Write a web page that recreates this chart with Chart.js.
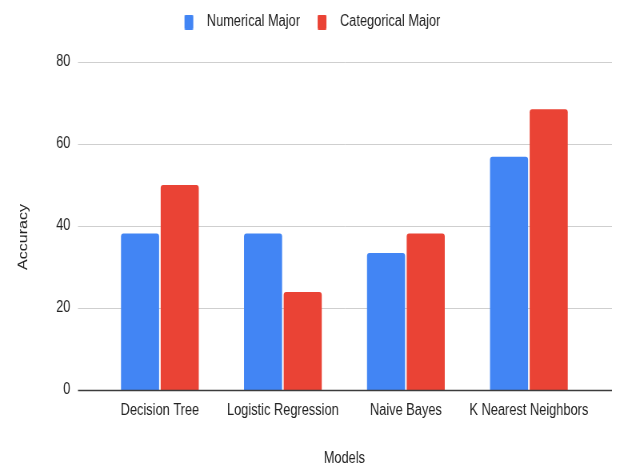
<!DOCTYPE html>
<html>
<head>
<meta charset="utf-8">
<script src="https://cdn.jsdelivr.net/npm/chart.js@4/dist/chart.umd.min.js"></script>
<style>
  html, body { margin: 0; padding: 0; background: #fff; overflow: hidden; }
  #wrap { width: 617px; height: 468px; overflow: hidden; }
  /* the chart is laid out on a wider canvas and narrowed horizontally */
  canvas { display: block; transform: scaleX(0.8); transform-origin: 0 0; }
</style>
</head>
<body>
<div id="wrap"><canvas id="c" width="771" height="468" style="width:771px;height:468px"></canvas></div>
<script>
// ---- data ----
const categories = ['Decision Tree', 'Logistic Regression', 'Naive Bayes', 'K Nearest Neighbors'];
const seriesNames = ['Numerical Major', 'Categorical Major'];
const numericalMajor = [38.2, 38.2, 33.4, 56.9];
const categoricalMajor = [50.0, 23.9, 38.2, 68.5];
const yTicks = [0, 20, 40, 60, 80];
const xTitle = 'Models';
const yTitle = 'Accuracy';

// ---- styling ----
const BLUE = '#4285F4';
const RED = '#EA4335';
const TEXT = '#222222';
const FONT = "'Liberation Sans', Arial, sans-serif";

Chart.defaults.font.family = FONT;
Chart.defaults.font.size = 16;
Chart.defaults.color = TEXT;

// legend swatch: coloured block with transparent margins on both sides
function swatch(color) {
  const c = document.createElement('canvas');
  c.width = 30; c.height = 15;
  const g = c.getContext('2d');
  g.fillStyle = color;
  g.beginPath();
  if (g.roundRect) g.roundRect(10, 0, 11, 15, 1.5); else g.rect(10, 0, 11, 15);
  g.fill();
  return c;
}

// horizontal grid, baseline and rotated y title
const frame = {
  id: 'frame',
  beforeDatasetsDraw(chart) {
    const { ctx, chartArea, scales: { y } } = chart;
    const x0 = chartArea.left - 25.5, x1 = chartArea.right + 27;
    ctx.save();
    ctx.strokeStyle = '#cfcfcf';
    ctx.lineWidth = 1;
    yTicks.forEach(v => {
      if (v === 0) return;
      const py = Math.round(y.getPixelForValue(v)) + 0.5;
      ctx.beginPath(); ctx.moveTo(x0, py); ctx.lineTo(x1, py); ctx.stroke();
    });
    ctx.restore();
  },
  afterDatasetsDraw(chart) {
    const { ctx, chartArea, scales: { y } } = chart;
    const x0 = chartArea.left - 25.5, x1 = chartArea.right + 27;
    const py = Math.round(y.getPixelForValue(0)) + 0.5;
    ctx.save();
    ctx.strokeStyle = '#3c3c3c';
    ctx.lineWidth = 1.4;
    ctx.beginPath(); ctx.moveTo(x0, py); ctx.lineTo(x1, py); ctx.stroke();
    ctx.restore();
  },
  afterDraw(chart) {
    const { ctx, chartArea } = chart;
    ctx.save();
    ctx.translate(29.5, (chartArea.top + chartArea.bottom) / 2 + 11);
    ctx.rotate(-Math.PI / 2);
    ctx.fillStyle = TEXT;
    ctx.font = '16px ' + FONT;
    ctx.textAlign = 'center';
    ctx.textBaseline = 'middle';
    ctx.fillText(yTitle, 0, 0);
    ctx.restore();
  }
};

const radius = { topLeft: 3, topRight: 3, bottomLeft: 0, bottomRight: 0 };

new Chart(document.getElementById('c'), {
  type: 'bar',
  data: {
    labels: categories,
    datasets: [
      { label: seriesNames[0], data: numericalMajor, backgroundColor: BLUE, borderRadius: radius, borderSkipped: false },
      { label: seriesNames[1], data: categoricalMajor, backgroundColor: RED, borderRadius: radius, borderSkipped: false }
    ]
  },
  options: {
    responsive: false,
    animation: false,
    devicePixelRatio: 1,
    layout: { padding: { left: 0, right: 0, top: 2, bottom: 0 } },
    datasets: { bar: { categoryPercentage: 0.645, barPercentage: 0.96 } },
    plugins: {
      tooltip: { enabled: false },
      legend: {
        position: 'top',
        align: 'center',
        labels: {
          usePointStyle: true,
          pointStyleWidth: 30,
          padding: 12,
          color: TEXT,
          font: { size: 16 },
          generateLabels(chart) {
            const items = Chart.defaults.plugins.legend.labels.generateLabels(chart);
            items.forEach((it, i) => { it.pointStyle = swatch(chart.data.datasets[i].backgroundColor); });
            return items;
          }
        }
      }
    },
    scales: {
      x: {
        grid: { display: false, drawTicks: false },
        border: { display: false },
        ticks: { padding: 11, maxRotation: 0, minRotation: 0, autoSkip: false, color: TEXT },
        title: { display: true, text: xTitle, color: TEXT, padding: { top: 0, bottom: 0 } },
        afterFit(s) { s.height = 78; }
      },
      xt: {
        type: 'linear',
        position: 'top',
        display: true,
        grid: { display: false, drawTicks: false },
        border: { display: false },
        ticks: { display: false },
        afterFit(s) { s.height = 22; }
      },
      y: {
        min: 0,
        max: 80,
        grid: { display: false, drawTicks: false },
        border: { display: false },
        ticks: { stepSize: 20, padding: 35, color: TEXT },
        afterFit(s) { s.width = 123; }
      },
      yr: {
        type: 'linear',
        position: 'right',
        display: true,
        grid: { display: false, drawTicks: false },
        border: { display: false },
        ticks: { display: false },
        afterFit(s) { s.width = 33; }
      }
    }
  },
  plugins: [frame]
});
</script>
</body>
</html>
